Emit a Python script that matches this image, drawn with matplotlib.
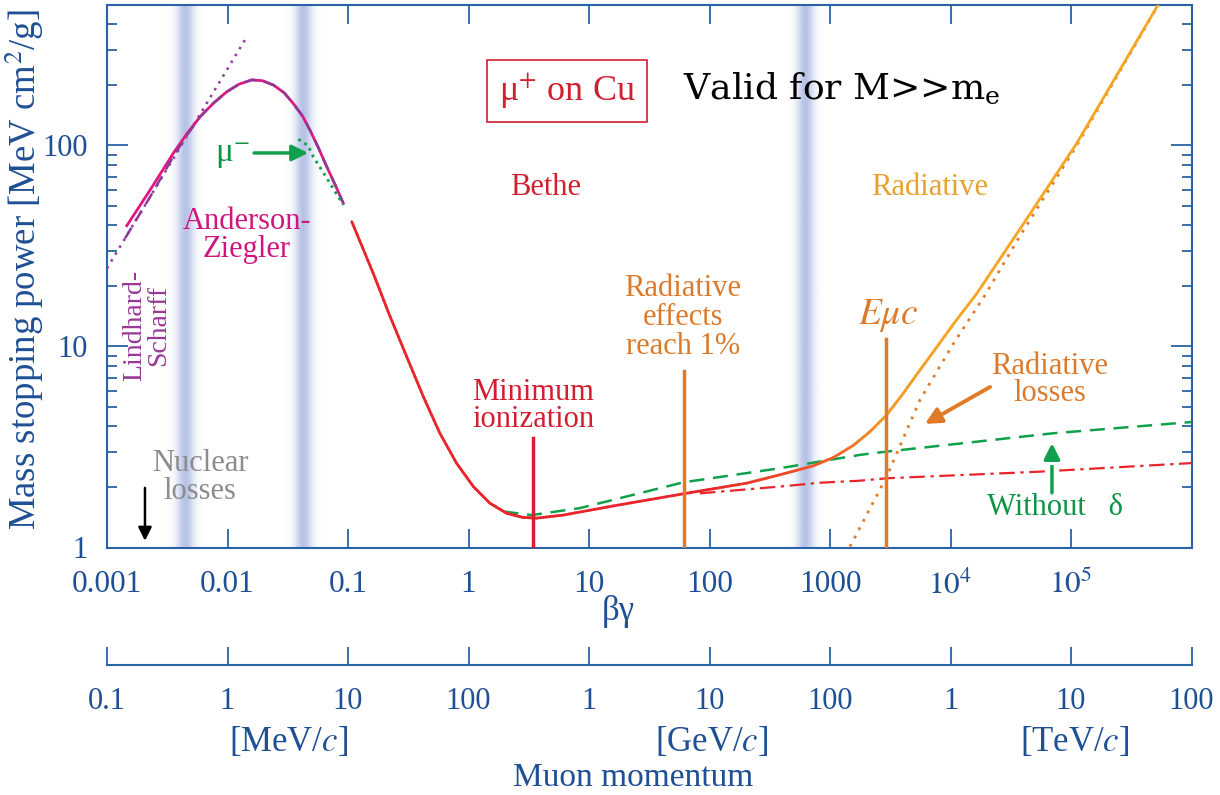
import numpy as np
import matplotlib
matplotlib.use('Agg')
import matplotlib.pyplot as plt
import matplotlib.patheffects as pe
from matplotlib.collections import LineCollection
from matplotlib.colors import LinearSegmentedColormap, to_rgb
from matplotlib.ticker import LogLocator, NullFormatter, NullLocator

plt.rcParams['font.family'] = ['Liberation Serif', 'DejaVu Serif']
plt.rcParams['mathtext.fontset'] = 'stix'

# ---- data (beta*gamma, stopping power MeV cm2/g) ----
# Anderson-Ziegler (mu+), magenta solid
az_bg = [0.00146, 0.00228, 0.00355, 0.00458, 0.00592, 0.0077, 0.00985, 0.0125, 0.0159,
         0.0195, 0.0240, 0.0295, 0.0351, 0.042, 0.0484, 0.057, 0.0666, 0.079, 0.0914]
az_S = [39.9, 60.1, 91.5, 114, 139, 163, 185, 202, 212,
        210, 200, 183, 162, 140, 119, 97, 78.5, 63, 51.6]
# purple dashed companion
azd_bg = [0.00141, 0.00228, 0.00355, 0.00458, 0.00592, 0.0077, 0.00985, 0.0125, 0.0159,
          0.0195, 0.0240, 0.0295, 0.0351, 0.042, 0.0484, 0.057, 0.0666, 0.079, 0.0914]
azd_S = [34.5, 55.6, 88, 112, 139, 163, 185, 202, 212,
         210, 200, 183, 162, 140, 119, 97, 78.5, 63, 51.6]
# Lindhard-Scharff, purple dotted
ls_bg = [0.001, 0.01396]
ls_S = [24.5, 335]
# mu- (green dotted)
mum_bg = [0.0387, 0.0466, 0.0515, 0.0709, 0.0914]
mum_S = [107.4, 100, 88, 64.9, 50.6]
# total stopping power mu+ on Cu (Bethe + radiative)
tot_bg = [0.1075, 0.162, 0.2235, 0.307, 0.4217, 0.579, 0.798, 1.097, 1.508, 2.075,
          2.85, 3.68, 6.12, 15.9, 60.7, 203.7, 385, 727, 1064, 1560, 2148, 2951, 4055,
          5580, 7670, 10540, 16480, 37800, 112000, 527000]
tot_S = [41.8, 23.1, 14.1, 8.9, 5.63, 3.70, 2.62, 2.01, 1.66, 1.48,
         1.41, 1.40, 1.45, 1.61, 1.85, 2.09, 2.30, 2.55, 2.80, 3.22, 3.77, 4.56, 5.85,
         7.64, 9.9, 12.9, 18.3, 38.5, 102.9, 500]
# without density effect (green dashed)
nod_bg = [1.95, 3.34, 8.41, 60.7, 385, 1775, 2951, 70900, 1e6]
nod_S = [1.51, 1.45, 1.57, 2.11, 2.48, 2.89, 3.00, 3.70, 4.21]
# ionization only (red dash-dot)
ion_bg = [83.4, 385, 826, 1775, 2951, 51900, 1e6]
ion_S = [1.86, 2.01, 2.10, 2.15, 2.21, 2.38, 2.63]
# radiative losses (orange dotted)
rad_bg = [1465, 2951, 5580, 10540, 19320, 37800, 112000, 527000]
rad_S = [1.01, 2.25, 5.42, 10.3, 18.0, 35.6, 100.4, 497]

# marker lines: (beta*gamma, top of line)
minion_bg, minion_top = 3.40, 3.51
rad1_bg, rad1_top = 61.4, 7.55
emuc_bg, emuc_top = 2917, 10.9

band_centers = [0.00443, 0.0423, 621]

bg_ticks = [1e-3, 1e-2, 1e-1, 1, 10, 100, 1000, 1e4, 1e5, 1e6]
bg_ticklabels = ['0.001', '0.01', '0.1', '1', '10', '100', '1000', r'$10^4$', r'$10^5$', '']
p_ticks = [0.1, 1, 10, 100, 1e3, 1e4, 1e5, 1e6, 1e7, 1e8]
p_ticklabels = ['0.1', '1', '10', '100', '1', '10', '100', '1', '10', '100']

# ---- colours ----
blue_txt = '#1f4f94'
blue_ax = '#2a62a6'
red = '#e8252b'
red_txt = '#d21f30'
magenta = '#e3177f'
purple = '#8e3a9a'
green = '#10a04b'
orange = '#e07a26'
orange_txt = '#dc7a2c'

W, H = 1220, 795
fig = plt.figure(figsize=(W / 100, H / 100), dpi=100)
left, right, bottom, top = 107, 1191.5, 547.5, 5
pos = [left / W, (H - bottom) / H, (right - left) / W, (bottom - top) / H]

# blurred blue bands in a linear (log10) background axes
bgax = fig.add_axes(pos, zorder=0)
band_rgb = to_rgb('#8ea3d8')
for c in band_centers:
    off = np.linspace(-0.2, 0.2, 81)
    img = np.zeros((1, len(off), 4))
    img[..., :3] = band_rgb
    img[0, :, 3] = 0.65 * np.exp(-(off / 0.07) ** 2)
    bgax.imshow(img, extent=[np.log10(c) - 0.2, np.log10(c) + 0.2, 0, 1],
                aspect='auto', interpolation='bilinear')
bgax.set_xlim(-3, 6)
bgax.set_ylim(0, 1)
bgax.axis('off')

ax = fig.add_axes(pos, zorder=1)
ax.patch.set_visible(False)
ax.set_xscale('log')
ax.set_yscale('log')

# low-energy curves
ax.plot(ls_bg, ls_S, color=purple, lw=1.8, ls=(0, (1, 2.2)), zorder=3)
ax.plot(az_bg, az_S, color=magenta, lw=2.0, zorder=4)
ax.plot(azd_bg, azd_S, color=purple, lw=1.8, ls=(0, (5, 3)), zorder=5)
ax.plot(mum_bg, mum_S, color=green, lw=2.0, ls=(0, (1, 1.6)), zorder=5)

# total curve with red -> orange colour change
cmap = LinearSegmentedColormap.from_list(
    'ro', [(0.0, red), (0.5, red), (0.75, '#ef5f2a'), (0.86, '#f3962a'), (1.0, '#f6a623')])
lx, ly = np.log10(tot_bg), np.log10(tot_S)
segs, cols = [], []
for i in range(len(lx) - 1):
    sx = np.linspace(lx[i], lx[i + 1], 9)
    sy = np.linspace(ly[i], ly[i + 1], 9)
    for j in range(8):
        segs.append([(10 ** sx[j], 10 ** sy[j]), (10 ** sx[j + 1], 10 ** sy[j + 1])])
        m = 0.5 * (sx[j] + sx[j + 1])
        cols.append(cmap(np.clip(m / 4.0, 0, 1)))
ax.add_collection(LineCollection(segs, colors=cols, linewidths=2.0, zorder=4, capstyle='round'))

ax.plot(nod_bg, nod_S, color=green, lw=1.8, ls=(0, (6, 3.5)), zorder=3)
ax.plot(ion_bg, ion_S, color=red, lw=1.6, ls=(0, (7, 2.5, 1.5, 2.5)), zorder=3)
ax.plot(rad_bg, rad_S, color=orange, lw=2.0, ls=(0, (1, 2.4)), zorder=3)

# vertical marker lines
ax.plot([minion_bg, minion_bg], [1, minion_top], color='#d6202e', lw=2.5, zorder=6)
ax.plot([rad1_bg, rad1_bg], [1, rad1_top], color=orange, lw=2.5, zorder=6)
ax.plot([emuc_bg, emuc_bg], [1, emuc_top], color=orange, lw=2.5, zorder=6)

ax.set_xlim(1e-3, 1e6)
ax.set_ylim(1, 500)

# ---- labels inside the plot ----
ax.text(6.57, 186.7, r'μ$^{+}$ on Cu', color=red_txt, fontsize=26, ha='center', va='center',
        bbox=dict(boxstyle='square,pad=0.32', fc='white', ec=red_txt, lw=1.2))
ax.text(60.3, 172, r'Valid for M>>m$_\mathrm{e}$', color='black', fontsize=26,
        family='DejaVu Serif', math_fontfamily='dejavuserif', ha='left', va='baseline')
ax.text(4.32, 61.5, 'Bethe', color=red_txt, fontsize=22, ha='center', va='center')
ax.text(6760, 61.5, 'Radiative', color='#e8a02f', fontsize=22, ha='center', va='center')
ax.text(0.01452, 35.5, 'Anderson-\nZiegler', color='#d0157e', fontsize=22, ha='center',
        va='center', linespacing=0.95)
ax.text(0.00215, 12.8, 'Lindhard-\nScharff', color='#953a96', fontsize=20, ha='center',
        va='center', rotation=90, linespacing=0.95)
ax.text(0.00591, 2.22, 'Nuclear\nlosses', color='#8c8c8c', fontsize=22, ha='center',
        va='center', linespacing=0.95)
ax.annotate('', xy=(0.002066, 1.08), xytext=(0.002066, 1.98),
            arrowprops=dict(arrowstyle='-|>', color='black', lw=1.8, mutation_scale=20,
                            shrinkA=0, shrinkB=0))
ax.text(3.43, 5.06, 'Minimum\nionization', color=red_txt, fontsize=22, ha='center',
        va='center', linespacing=0.95)
ax.text(60.3, 13.9, 'Radiative\neffects\nreach 1%', color=orange_txt, fontsize=22,
        ha='center', va='center', linespacing=1.0)
ax.text(3030, 14.3, r'$E\mu c$', color=orange_txt, fontsize=27, ha='center', va='center')
ax.text(67000, 6.81, 'Radiative\nlosses', color=orange_txt, fontsize=22, ha='center',
        va='center', linespacing=0.95)
ax.annotate('', xy=(6140, 4.12), xytext=(21300, 6.29),
            arrowprops=dict(arrowstyle='-|>', color=orange, lw=2.8, mutation_scale=24,
                            shrinkA=0, shrinkB=0))
ax.text(73600, 1.59, 'Without   δ', color='#0d9444', fontsize=22, ha='center', va='center')
ax.annotate('', xy=(69500, 3.31), xytext=(69500, 1.87),
            arrowprops=dict(arrowstyle='-|>', color=green, lw=2.5, mutation_scale=24,
                            shrinkA=0, shrinkB=0,
                            path_effects=[pe.withStroke(linewidth=7, foreground='white')]),
            zorder=7)
ax.text(0.0111, 89.7, r'μ$^{-}$', color='#0d9444', fontsize=24, ha='center', va='center')
ax.annotate('', xy=(0.0466, 91.8), xytext=(0.0166, 91.8),
            arrowprops=dict(arrowstyle='-|>', color=green, lw=2.5, mutation_scale=24,
                            shrinkA=0, shrinkB=0), zorder=7)

# ---- axes styling ----
ax.set_xticks(bg_ticks)
ax.set_xticklabels(bg_ticklabels)
ax.xaxis.set_minor_locator(NullLocator())
ax.set_yticks([1, 10, 100])
ax.set_yticklabels(['1', '10', '100'])
ax.yaxis.set_minor_locator(LogLocator(base=10, subs=np.arange(2, 10)))
ax.yaxis.set_minor_formatter(NullFormatter())
ax.tick_params(axis='x', which='major', direction='in', length=13.5, width=1.3, top=True,
               color=blue_ax, labelcolor=blue_txt, labelsize=22.5, pad=16)
ax.tick_params(axis='y', which='major', direction='in', length=15, width=1.3, right=True,
               color=blue_ax, labelcolor=blue_txt, labelsize=22, pad=14)
ax.tick_params(axis='y', which='minor', direction='in', length=7.5, width=1.3, right=True,
               color=blue_ax)
for s in ax.spines.values():
    s.set_color(blue_ax)
    s.set_linewidth(1.5)

fig.text(25 / W, 1 - 270 / H, r'Mass stopping power [MeV cm$^2$/g]', rotation=90,
         color=blue_txt, fontsize=26.5, ha='center', va='center')
fig.text(618 / W, 1 - 612 / H, 'βγ', color=blue_txt, fontsize=25, ha='center', va='center')

# momentum axis
pax = fig.add_axes([left / W, (H - 665) / H, (right - left) / W, 0.001])
pax.patch.set_visible(False)
pax.set_xscale('log')
pax.set_xlim(0.1, 1e8)
pax.set_yticks([])
pax.set_xticks(p_ticks)
pax.set_xticklabels(p_ticklabels)
pax.xaxis.set_minor_locator(NullLocator())
for k in ['top', 'left', 'right']:
    pax.spines[k].set_visible(False)
pax.spines['bottom'].set_color(blue_ax)
pax.spines['bottom'].set_linewidth(1.5)
pax.tick_params(axis='x', direction='in', length=13, width=1.3, color=blue_ax,
                labelcolor=blue_txt, labelsize=22, pad=16)

fig.text(289 / W, 1 - 742 / H, r'[MeV/$c$]', color=blue_txt, fontsize=25, ha='center', va='center')
fig.text(712 / W, 1 - 742 / H, r'[GeV/$c$]', color=blue_txt, fontsize=25, ha='center', va='center')
fig.text(1075 / W, 1 - 742 / H, r'[TeV/$c$]', color=blue_txt, fontsize=25, ha='center', va='center')
fig.text(633 / W, 1 - 778 / H, 'Muon momentum', color=blue_txt, fontsize=24, ha='center', va='center')

fig.savefig('out.png', dpi=100)
